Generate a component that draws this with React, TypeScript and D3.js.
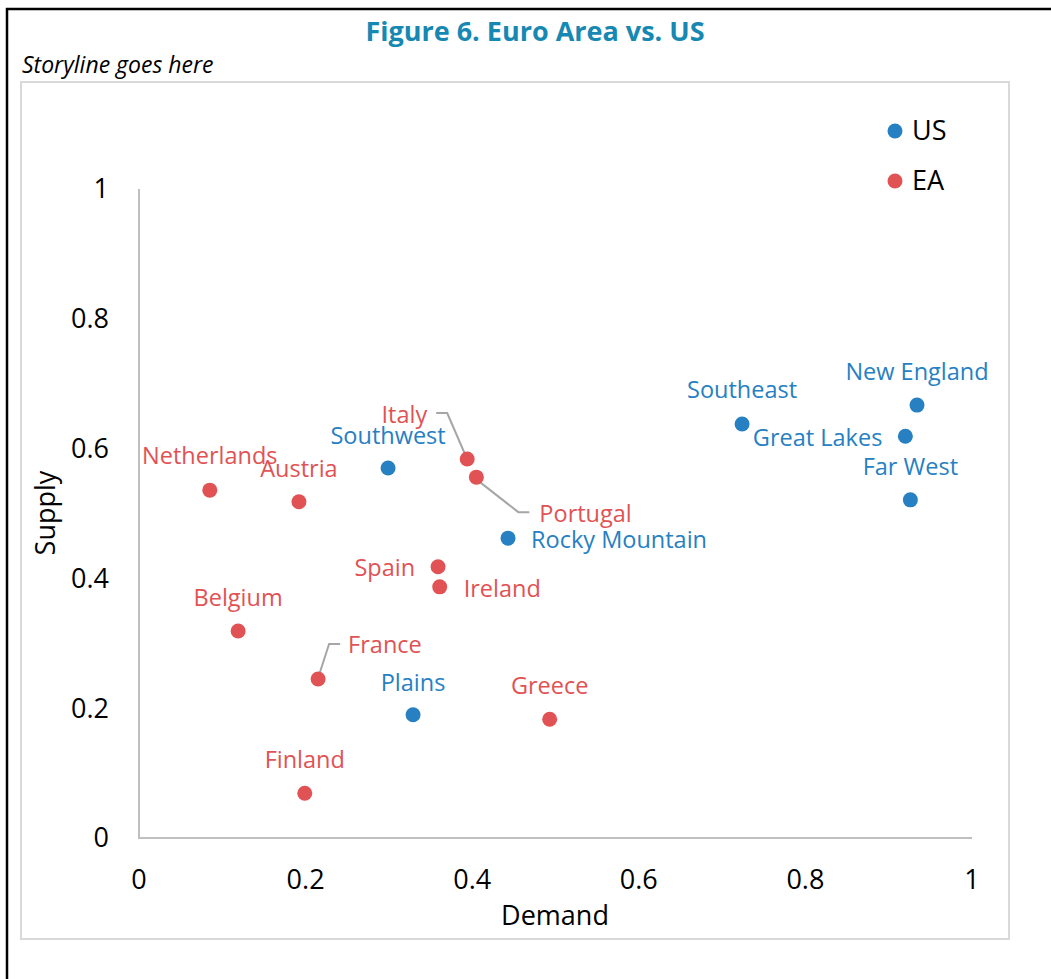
import React, { useEffect, useRef } from 'react';
import * as d3 from 'd3';

// US regions: demand / supply
const usNames = ['Southwest', 'Rocky Mountain', 'Plains', 'Southeast', 'New England', 'Great Lakes', 'Far West'];
const usDemand = [0.299, 0.443, 0.329, 0.724, 0.934, 0.920, 0.926];
const usSupply = [0.570, 0.462, 0.190, 0.638, 0.667, 0.619, 0.521];

// Euro area countries
const eaNames = ['Netherlands', 'Austria', 'Italy', 'Portugal', 'Spain', 'Ireland', 'Belgium', 'France', 'Greece', 'Finland'];
const eaDemand = [0.085, 0.192, 0.394, 0.405, 0.359, 0.361, 0.119, 0.215, 0.493, 0.199];
const eaSupply = [0.536, 0.518, 0.584, 0.556, 0.418, 0.387, 0.319, 0.245, 0.183, 0.069];

const xTicks = [0, 0.2, 0.4, 0.6, 0.8, 1];
const yTicks = [0, 0.2, 0.4, 0.6, 0.8, 1];
const tickLabels = ['0', '0.2', '0.4', '0.6', '0.8', '1'];

const US_COLOR = '#2680c2';
const EA_COLOR = '#e15254';
const FONT = '"Open Sans", "Noto Sans", sans-serif';

// where each data label sits relative to its dot (pixels), and optional leader line
const labelPlacement = {
  'Southwest': { dx: 0, dy: -32, anchor: 'middle' },
  'Rocky Mountain': { dx: 23, dy: 2, anchor: 'start' },
  'Plains': { dx: 0, dy: -32, anchor: 'middle' },
  'Southeast': { dx: 0, dy: -34, anchor: 'middle' },
  'New England': { dx: 0, dy: -33, anchor: 'middle' },
  'Great Lakes': { dx: -23, dy: 2, anchor: 'end' },
  'Far West': { dx: 0, dy: -33, anchor: 'middle' },
  'Netherlands': { dx: 0, dy: -34, anchor: 'middle' },
  'Austria': { dx: 0, dy: -33, anchor: 'middle' },
  'Italy': { dx: -40, dy: -44, anchor: 'end', leader: [[-1, -2], [-20, -46], [-31, -46]] },
  'Portugal': { dx: 63, dy: 37, anchor: 'start', leader: [[1, 3], [42, 35], [53, 35]] },
  'Spain': { dx: -23, dy: 1, anchor: 'end' },
  'Ireland': { dx: 24, dy: 2, anchor: 'start' },
  'Belgium': { dx: 0, dy: -33, anchor: 'middle' },
  'France': { dx: 30, dy: -34, anchor: 'start', leader: [[0, -1], [11, -35], [22, -35]] },
  'Greece': { dx: 0, dy: -33, anchor: 'middle' },
  'Finland': { dx: 0, dy: -33, anchor: 'middle' },
};

const App = () => {
  const ref = useRef(null);

  useEffect(() => {
    const width = 1051;
    const height = 979;
    const svgEl = d3.select(ref.current);
    svgEl.selectAll('*').remove();

    const svg = svgEl.attr('width', width).attr('height', height);

    svg.append('rect').attr('width', width).attr('height', height).attr('fill', '#fff');

    // outer frame: top and left black rules
    svg.append('line').attr('x1', 6).attr('x2', width).attr('y1', 9).attr('y2', 9)
      .attr('stroke', '#000').attr('stroke-width', 2.5);
    svg.append('line').attr('x1', 7).attr('x2', 7).attr('y1', 8).attr('y2', height)
      .attr('stroke', '#000').attr('stroke-width', 2.5);

    // chart area border
    svg.append('rect').attr('x', 21).attr('y', 82).attr('width', 988).attr('height', 857)
      .attr('fill', 'none').attr('stroke', '#d9d9d9').attr('stroke-width', 2);

    svg.append('text')
      .attr('x', 535).attr('y', 41)
      .attr('text-anchor', 'middle')
      .style('font-family', FONT).style('font-weight', 'bold').style('font-size', '27px')
      .style('fill', '#1788b2')
      .text('Figure 6. Euro Area vs. US');

    svg.append('text')
      .attr('x', 22).attr('y', 73)
      .style('font-family', FONT).style('font-style', 'italic').style('font-size', '23px')
      .style('fill', '#000')
      .text('Storyline goes here');

    const x = d3.scaleLinear().domain([0, 1]).range([139, 972]);
    const y = d3.scaleLinear().domain([0, 1]).range([838, 189]);

    // axes lines
    svg.append('line').attr('x1', x(0)).attr('x2', x(0)).attr('y1', y(1)).attr('y2', y(0))
      .attr('stroke', '#bfbfbf').attr('stroke-width', 2);
    svg.append('line').attr('x1', x(0) - 1).attr('x2', x(1)).attr('y1', y(0)).attr('y2', y(0))
      .attr('stroke', '#bfbfbf').attr('stroke-width', 2);

    svg.append('g').selectAll('text')
      .data(xTicks)
      .enter().append('text')
      .attr('x', d => x(d))
      .attr('y', y(0) + 42)
      .attr('dy', '.35em')
      .attr('text-anchor', 'middle')
      .style('font-family', FONT).style('font-size', '27px').style('fill', '#000')
      .text((d, i) => tickLabels[i]);

    svg.append('g').selectAll('text')
      .data(yTicks)
      .enter().append('text')
      .attr('x', 109)
      .attr('y', d => y(d))
      .attr('dy', '.35em')
      .attr('text-anchor', 'end')
      .style('font-family', FONT).style('font-size', '27px').style('fill', '#000')
      .text((d, i) => tickLabels[i]);

    svg.append('text')
      .attr('x', 555).attr('y', 916).attr('dy', '.35em')
      .attr('text-anchor', 'middle')
      .style('font-family', FONT).style('font-size', '27px').style('fill', '#000')
      .text('Demand');

    svg.append('text')
      .attr('transform', 'translate(46,513) rotate(-90)')
      .attr('dy', '.35em')
      .attr('text-anchor', 'middle')
      .style('font-family', FONT).style('font-size', '27px').style('fill', '#000')
      .text('Supply');

    const series = [
      { names: usNames, xs: usDemand, ys: usSupply, color: US_COLOR },
      { names: eaNames, xs: eaDemand, ys: eaSupply, color: EA_COLOR },
    ];

    series.forEach(s => {
      const pts = s.names.map((n, i) => ({ name: n, px: x(s.xs[i]), py: y(s.ys[i]) }));
      const g = svg.append('g');

      // leader lines
      pts.forEach(p => {
        const pl = labelPlacement[p.name];
        if (pl && pl.leader) {
          g.append('path')
            .attr('d', d3.line()(pl.leader.map(([dx, dy]) => [p.px + dx, p.py + dy])))
            .attr('fill', 'none').attr('stroke', '#a6a6a6').attr('stroke-width', 2);
        }
      });

      g.selectAll('circle')
        .data(pts)
        .enter().append('circle')
        .attr('cx', d => d.px).attr('cy', d => d.py).attr('r', 7.5)
        .style('fill', s.color);

      g.selectAll('text')
        .data(pts)
        .enter().append('text')
        .attr('x', d => d.px + labelPlacement[d.name].dx)
        .attr('y', d => d.py + labelPlacement[d.name].dy)
        .attr('dy', '.35em')
        .attr('text-anchor', d => labelPlacement[d.name].anchor)
        .style('font-family', FONT).style('font-size', '23.5px')
        .style('fill', s.color)
        .text(d => d.name);
    });

    // legend
    const legend = [{ label: 'US', color: US_COLOR }, { label: 'EA', color: EA_COLOR }];
    const lg = svg.append('g').attr('transform', 'translate(895,131)');
    legend.forEach((l, i) => {
      lg.append('circle').attr('cx', 0).attr('cy', i * 50).attr('r', 7.5).style('fill', l.color);
      lg.append('text').attr('x', 17).attr('y', i * 50).attr('dy', '.35em')
        .style('font-family', FONT).style('font-size', '27px').style('fill', '#000')
        .text(l.label);
    });
  }, []);

  return <svg ref={ref} style={{ position: 'absolute', left: 0, top: 0 }} />;
};

export default App;
